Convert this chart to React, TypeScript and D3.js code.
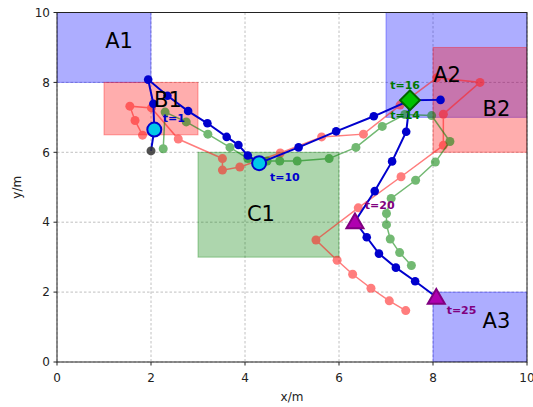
import React from "react";
import * as d3 from "d3";

const W = 533, H = 407;
const M = { left: 57, right: 527, top: 12.5, bottom: 362 };

const ticks = [0, 2, 4, 6, 8, 10];

// regions: name, x0, x1, y0, y1, kind
const regionNames = ["A1", "B1", "C1", "A2", "B2", "A3"];
const regionX0 = [0, 1, 3, 7, 8, 8];
const regionX1 = [2, 3, 6, 10, 10, 10];
const regionY0 = [8, 6.5, 3, 7, 6, 0];
const regionY1 = [10, 8, 6, 10, 9, 2];
const regionKind = ["A", "B", "C", "A", "B", "A"];
const regionLabelX = [1.32, 2.36, 4.34, 8.3, 9.35, 9.35];
const regionLabelY = [9.2, 7.52, 4.26, 8.22, 7.25, 1.2];

const blueX = [2.0, 2.07, 2.05, 1.94, 2.35, 2.79, 3.2, 3.61, 3.86, 4.06, 4.3, 5.14, 5.94, 6.74, 7.51, 8.16, 7.51, 7.43, 7.13, 6.76, 6.34, 6.59, 6.85, 7.21, 7.62, 8.07];
const blueY = [6.04, 6.65, 7.39, 8.08, 7.62, 7.18, 6.83, 6.44, 6.21, 5.91, 5.69, 6.14, 6.6, 7.03, 7.49, 7.5, 7.49, 6.59, 5.74, 4.89, 4.02, 3.57, 3.1, 2.7, 2.31, 1.86];

const redX = [1.82, 1.66, 1.55, 2.01, 2.58, 3.52, 3.52, 3.89, 4.75, 5.63, 6.52, 7.3, 8.08, 9.0, 8.22, 8.22, 7.32, 6.41, 5.51, 5.96, 6.29, 6.68, 7.07, 7.42];
const redY = [6.49, 6.91, 7.32, 7.27, 6.38, 5.82, 5.49, 5.58, 5.98, 6.44, 6.52, 7.35, 8.13, 8.0, 7.09, 6.2, 5.3, 4.41, 3.49, 2.91, 2.51, 2.11, 1.75, 1.47];

const greenX = [2.26, 2.3, 2.75, 3.21, 3.68, 4.06, 4.47, 4.74, 5.11, 5.79, 6.36, 6.92, 7.4, 7.97, 8.36, 8.05, 7.63, 7.11, 7.01, 7.01, 7.09, 7.29, 7.54];
const greenY = [6.1, 7.15, 6.87, 6.52, 6.14, 5.82, 5.75, 5.75, 5.75, 5.82, 6.14, 6.74, 7.08, 7.05, 6.31, 5.72, 5.2, 4.68, 4.25, 3.93, 3.52, 3.13, 2.76];

// key time steps on the blue trajectory
const circleSteps = [1, 10];
const diamondSteps = [14];
const triangleSteps = [20, 25];

const annText = ["t=1", "t=10", "t=16", "t=14", "t=20", "t=25"];
const annX = [2.25, 4.53, 7.09, 7.09, 6.55, 8.29];
const annY = [6.99, 5.29, 7.91, 7.06, 4.49, 1.49];
const annKind = ["blue", "blue", "green", "green", "purple", "purple"];

const x = d3.scaleLinear().domain([0, 10]).range([M.left, M.right]);
const y = d3.scaleLinear().domain([0, 10]).range([M.bottom, M.top]);

const regionFill: Record<string, string> = { A: "#0000ff", B: "#ff0000", C: "#008000" };
const annColor: Record<string, string> = { blue: "#0000cd", green: "#007a00", purple: "#800080" };

function pts(xs: number[], ys: number[]): [number, number][] {
  return xs.map((v, i) => [x(v), y(ys[i])]);
}

const line = d3.line<[number, number]>();

export default function App() {
  const font = "DejaVu Sans, sans-serif";
  const blue = pts(blueX, blueY);
  const red = pts(redX, redY);
  const green = pts(greenX, greenY);
  const triPath = (cx: number, cy: number, r: number) =>
    `M${cx},${cy - r}L${cx + r * 0.95},${cy + r * 0.65}L${cx - r * 0.95},${cy + r * 0.65}Z`;
  return (
    <svg width={W} height={H} style={{ position: "absolute", left: 0, top: 0, background: "#fff" }}>
      <defs>
        <clipPath id="plot">
          <rect x={M.left} y={M.top} width={M.right - M.left} height={M.bottom - M.top} />
        </clipPath>
      </defs>
      {/* grid */}
      <g stroke="#b0b0b0" strokeWidth={0.8} strokeDasharray="2.5,2">
        {ticks.map((t) => (
          <line key={"gx" + t} x1={x(t)} x2={x(t)} y1={M.top} y2={M.bottom} />
        ))}
        {ticks.map((t) => (
          <line key={"gy" + t} y1={y(t)} y2={y(t)} x1={M.left} x2={M.right} />
        ))}
      </g>
      {/* regions */}
      <g clipPath="url(#plot)">
        {regionNames.map((n, i) => (
          <rect
            key={n}
            x={x(regionX0[i])}
            y={y(regionY1[i])}
            width={x(regionX1[i]) - x(regionX0[i])}
            height={y(regionY0[i]) - y(regionY1[i])}
            fill={regionFill[regionKind[i]]}
            fillOpacity={0.32}
            stroke={regionFill[regionKind[i]]}
            strokeOpacity={0.35}
            strokeWidth={1}
          />
        ))}
      </g>
      {/* red trajectory */}
      <g opacity={0.58}>
        <path d={line(red) || ""} fill="none" stroke="#ff2020" strokeWidth={1.5} />
        {red.map((p, i) => (
          <circle key={"r" + i} cx={p[0]} cy={p[1]} r={4.5} fill="#ff2020" />
        ))}
      </g>
      {/* green trajectory */}
      <g opacity={0.55}>
        <path d={line(green) || ""} fill="none" stroke="#008000" strokeWidth={1.5} />
        {green.map((p, i) => (
          <circle key={"g" + i} cx={p[0]} cy={p[1]} r={4.5} fill="#008000" />
        ))}
      </g>
      {/* blue trajectory */}
      <path d={line(blue) || ""} fill="none" stroke="#0000cd" strokeWidth={2} />
      {blue.map((p, i) =>
        i === 0 ? null : <circle key={"b" + i} cx={p[0]} cy={p[1]} r={4.3} fill="#0000cd" />
      )}
      <circle cx={blue[0][0]} cy={blue[0][1]} r={4.5} fill="#333" opacity={0.85} />
      {/* key markers */}
      {circleSteps.map((s) => (
        <circle key={"c" + s} cx={blue[s][0]} cy={blue[s][1]} r={7} fill="#00c8e8" stroke="#0000cd" strokeWidth={2} />
      ))}
      {diamondSteps.map((s) => (
        <rect
          key={"d" + s}
          x={blue[s][0] - 7}
          y={blue[s][1] - 7}
          width={14}
          height={14}
          transform={`rotate(45 ${blue[s][0]} ${blue[s][1]})`}
          fill="#00c000"
          stroke="#006400"
          strokeWidth={2}
        />
      ))}
      {triangleSteps.map((s) => (
        <path key={"t" + s} d={triPath(blue[s][0], blue[s][1] + 1, 9)} fill="#b000b0" stroke="#800080" strokeWidth={2} />
      ))}
      {/* annotations */}
      {annText.map((t, i) => (
        <text
          key={"a" + i}
          x={x(annX[i])}
          y={y(annY[i])}
          dy="0.35em"
          fontFamily={font}
          fontWeight="bold"
          fontSize={11}
          fill={annColor[annKind[i]]}
        >
          {t}
        </text>
      ))}
      {/* region labels */}
      {regionNames.map((n, i) => (
        <text
          key={"l" + n}
          x={x(regionLabelX[i])}
          y={y(regionLabelY[i])}
          dy="0.36em"
          textAnchor="middle"
          fontFamily={font}
          fontSize={21}
          fill="#000"
        >
          {n}
        </text>
      ))}
      {/* spines */}
      <rect x={M.left} y={M.top} width={M.right - M.left} height={M.bottom - M.top} fill="none" stroke="#222" strokeWidth={1} />
      {/* ticks */}
      <g fontFamily={font} fontSize={12} fill="#222">
        {ticks.map((t) => (
          <g key={"xt" + t}>
            <line x1={x(t)} x2={x(t)} y1={M.bottom} y2={M.bottom + 3.5} stroke="#222" />
            <text x={x(t)} y={M.bottom + 20} textAnchor="middle">
              {t}
            </text>
          </g>
        ))}
        {ticks.map((t) => (
          <g key={"yt" + t}>
            <line x1={M.left - 3.5} x2={M.left} y1={y(t)} y2={y(t)} stroke="#222" />
            <text x={M.left - 7} y={y(t)} dy="0.35em" textAnchor="end">
              {t}
            </text>
          </g>
        ))}
        <text x={(M.left + M.right) / 2} y={401} textAnchor="middle">
          x/m
        </text>
        <text transform={`translate(21,${(M.top + M.bottom) / 2}) rotate(-90)`} textAnchor="middle">
          y/m
        </text>
      </g>
    </svg>
  );
}
